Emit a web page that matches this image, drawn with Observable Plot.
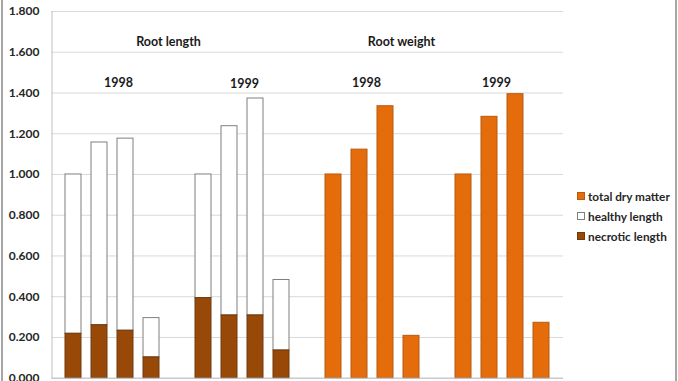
<!DOCTYPE html>
<html>
<head>
<meta charset="utf-8">
<script src="https://cdn.jsdelivr.net/npm/d3@7"></script>
<script src="https://cdn.jsdelivr.net/npm/@observablehq/plot@0.6"></script>
<style>
  html, body { margin: 0; padding: 0; background: #fff; overflow: hidden; }
  #wrap { position: relative; width: 678px; height: 381px; overflow: hidden; font-family: Lato, sans-serif; }
  #border { position: absolute; left: 1px; top: -2px; width: 672px; height: 390px; border-left: 2px solid #a6a6a6; border-right: 2px solid #a6a6a6; pointer-events: none; }
  #chart { position: absolute; left: 0; top: 0; }
  #legend { position: absolute; left: 577px; top: 186px; font-size: 11.8px; font-weight: bold; color: #262626; }
  .item { display: flex; align-items: center; height: 20px; white-space: nowrap; }
  .sw { width: 6px; height: 6px; margin-right: 3px; border: 1px solid #7f7f7f; }
</style>
</head>
<body>
<div id="wrap">
  <div id="chart"></div>
  <div id="legend"></div>
  <div id="border"></div>
</div>
<script>
// Category slots (empty slots separate the groups)
const slots = ["L98-1","L98-2","L98-3","L98-4","gap1","L99-1","L99-2","L99-3","L99-4","gap2",
               "W98-1","W98-2","W98-3","W98-4","gap3","W99-1","W99-2","W99-3","W99-4"];
const lengthSlots98 = ["L98-1","L98-2","L98-3","L98-4"];
const lengthSlots99 = ["L99-1","L99-2","L99-3","L99-4"];
const weightSlots98 = ["W98-1","W98-2","W98-3","W98-4"];
const weightSlots99 = ["W99-1","W99-2","W99-3","W99-4"];

// Root length: necrotic part and total (necrotic + healthy)
const necrotic98 = [0.218, 0.260, 0.233, 0.102];
const totalLength98 = [1.000, 1.157, 1.176, 0.295];
const necrotic99 = [0.393, 0.308, 0.308, 0.136];
const totalLength99 = [1.000, 1.237, 1.373, 0.482];

// Root weight: total dry matter
const dryMatter98 = [1.000, 1.122, 1.335, 0.208];
const dryMatter99 = [1.000, 1.283, 1.394, 0.272];

const yTicks = [0, 0.2, 0.4, 0.6, 0.8, 1.0, 1.2, 1.4, 1.6, 1.8];

const seriesNames = ["total dry matter", "healthy length", "necrotic length"];
const seriesColors = ["#E46C0A", "#FFFFFF", "#984807"];
const seriesStrokes = ["#b85a10", "#7f7f7f", "#6e3a10"];

// Annotations
const annoText = ["Root length", "1998", "1999", "Root weight", "1998", "1999"];
const annoSlot = ["gap1", "L98-3", "L99-3", "W98-4", "W98-2", "W99-2"];
const annoValue = [1.650, 1.448, 1.445, 1.650, 1.448, 1.448];
const annoShift = [-9, -7, -11, -10, 7, 7];

// Build tables
const necroticRows = [];
const healthyRows = [];
[[lengthSlots98, necrotic98, totalLength98], [lengthSlots99, necrotic99, totalLength99]].forEach(([s, n, t]) => {
  s.forEach((slot, i) => {
    necroticRows.push({slot, y1: 0, y2: n[i]});
    healthyRows.push({slot, y1: n[i], y2: t[i]});
  });
});
const weightRows = [];
[[weightSlots98, dryMatter98], [weightSlots99, dryMatter99]].forEach(([s, v]) => {
  s.forEach((slot, i) => weightRows.push({slot, y: v[i]}));
});
const annos = annoText.map((t, i) => ({text: t, slot: annoSlot[i], y: annoValue[i], dx: annoShift[i]}));

const chart = Plot.plot({
  width: 678,
  height: 390,
  marginLeft: 51.5,
  marginRight: 115,
  marginTop: 11,
  marginBottom: 12.3,
  style: {fontFamily: "Lato", fontSize: "12px", fontWeight: "bold", color: "#262626", background: "transparent"},
  x: {domain: slots, paddingInner: 0.37, paddingOuter: 0.185, axis: null},
  y: {domain: [0, 1.8], ticks: yTicks, tickFormat: d3.format(".3f"), tickSize: 0, tickPadding: 12.5, label: null},
  marks: [
    Plot.gridY(yTicks, {stroke: "#d9d9d9", strokeOpacity: 1, strokeWidth: 1}),
    Plot.frame({anchor: "left", stroke: "#bfbfbf"}),
    Plot.barY(weightRows, {x: "slot", y: "y", fill: seriesColors[0], stroke: seriesStrokes[0], strokeWidth: 1, inset: 0}),
    Plot.barY(healthyRows, {x: "slot", y1: "y1", y2: "y2", fill: seriesColors[1], stroke: seriesStrokes[1], strokeWidth: 1, inset: 0}),
    Plot.barY(necroticRows, {x: "slot", y1: "y1", y2: "y2", fill: seriesColors[2], stroke: seriesStrokes[2], strokeWidth: 1, inset: 0}),
    Plot.ruleY([0], {stroke: "#bfbfbf"}),
    ...annos.map(a => Plot.text([a], {x: "slot", y: "y", text: "text", dx: a.dx, fill: "#1a1a1a", fontSize: 12.5, fontWeight: "bold"}))
  ]
});
document.getElementById("chart").appendChild(chart);

const legend = document.getElementById("legend");
seriesNames.forEach((name, i) => {
  const item = document.createElement("div");
  item.className = "item";
  const sw = document.createElement("span");
  sw.className = "sw";
  sw.style.background = seriesColors[i];
  sw.style.borderColor = seriesStrokes[i];
  item.appendChild(sw);
  const label = document.createElement("span");
  label.textContent = name;
  item.appendChild(label);
  legend.appendChild(item);
});
</script>
</body>
</html>
